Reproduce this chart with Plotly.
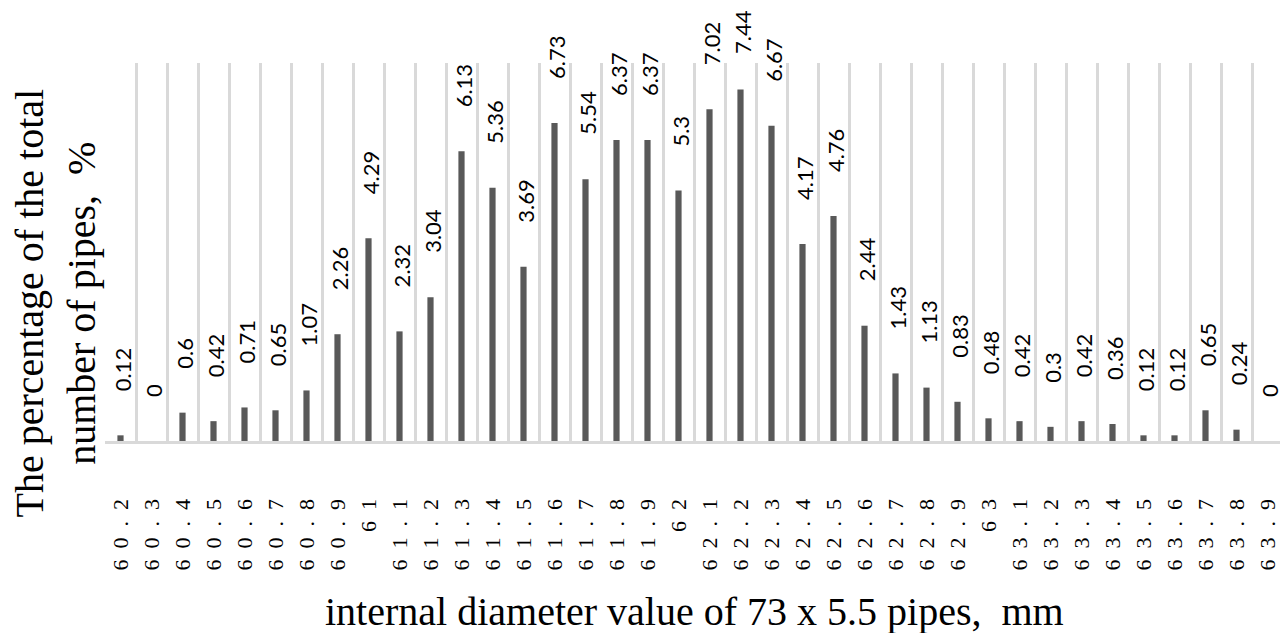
import plotly.graph_objects as go

categories = ["60.2", "60.3", "60.4", "60.5", "60.6", "60.7", "60.8", "60.9",
              "61", "61.1", "61.2", "61.3", "61.4", "61.5", "61.6", "61.7", "61.8", "61.9",
              "62", "62.1", "62.2", "62.3", "62.4", "62.5", "62.6", "62.7", "62.8", "62.9",
              "63", "63.1", "63.2", "63.3", "63.4", "63.5", "63.6", "63.7", "63.8", "63.9"]
values = [0.12, 0, 0.6, 0.42, 0.71, 0.65, 1.07, 2.26,
          4.29, 2.32, 3.04, 6.13, 5.36, 3.69, 6.73, 5.54, 6.37, 6.37,
          5.3, 7.02, 7.44, 6.67, 4.17, 4.76, 2.44, 1.43, 1.13, 0.83,
          0.48, 0.42, 0.3, 0.42, 0.36, 0.12, 0.12, 0.65, 0.24, 0]
value_labels = ["0.12", "0", "0.6", "0.42", "0.71", "0.65", "1.07", "2.26",
                "4.29", "2.32", "3.04", "6.13", "5.36", "3.69", "6.73", "5.54", "6.37", "6.37",
                "5.3", "7.02", "7.44", "6.67", "4.17", "4.76", "2.44", "1.43", "1.13", "0.83",
                "0.48", "0.42", "0.3", "0.42", "0.36", "0.12", "0.12", "0.65", "0.24", "0"]

x_title = "internal diameter value of 73 x 5.5 pipes,\u00a0\u00a0mm"
y_title = "The percentage of the total<br>number of pipes,\u00a0\u00a0%"

SEP = "\u2002"            # en space between characters
PAD_SHORT = "\u2002\u2002\u2002\u2005"  # leading pad so "61" lines up at the top like "61.1"


def spaced(label):
    s = SEP.join(list(label))
    if "." not in label:
        s = PAD_SHORT + s
    return s


tick_text = [spaced(c) for c in categories]
positions = list(range(len(categories)))

# layout geometry
W, H = 1280, 625
M_L, M_R, M_T, M_B = 97, 5, 55, 192
Y_MAX = 8
plot_h = H - M_T - M_B
px_per_unit = plot_h / Y_MAX
LABEL_SIZE = 22
LABEL_GAP = 42

fig = go.Figure()
fig.add_trace(go.Bar(
    x=positions, y=values,
    marker=dict(color="#595959", line=dict(width=0)),
    width=0.2,
    hoverinfo="skip",
))

annotations = []
# value labels above bars (pushed down when they would leave the figure)
for p, v, t in zip(positions, values, value_labels):
    bar_top = M_T + (Y_MAX - v) * px_per_unit
    n_dig = sum(ch.isdigit() for ch in t)
    n_dot = t.count(".")
    est_len = LABEL_SIZE * (0.58 * n_dig + 0.24 * n_dot) + 2
    shift = min(LABEL_GAP, bar_top - 3 - est_len)
    annotations.append(dict(
        x=p, y=v, xref="x", yref="y", text=t, showarrow=False,
        textangle=-90, xanchor="center", yanchor="bottom", yshift=shift, xshift=2,
        font=dict(family="Lato", size=LABEL_SIZE, color="#000000"),
    ))
# category tick labels under the axis
for p, t in zip(positions, tick_text):
    annotations.append(dict(
        x=p, y=-0.249, xref="x", yref="paper", text=t, showarrow=False,
        textangle=-90, xanchor="center", yanchor="middle",
        font=dict(family="Liberation Serif", size=22, color="#000000"),
    ))

annotations.append(dict(
    x=-0.042, y=0.365, xref="paper", yref="paper", text=y_title, showarrow=False,
    textangle=-90, xanchor="center", yanchor="middle", align="center",
    font=dict(family="Liberation Serif", size=40, color="#000000"),
))
annotations.append(dict(
    x=0.5, y=-0.452, xref="paper", yref="paper", text=x_title, showarrow=False,
    xanchor="center", yanchor="middle",
    font=dict(family="Liberation Serif", size=40, color="#000000"),
))

fig.update_layout(
    width=W, height=H,
    margin=dict(l=M_L, r=M_R, t=M_T, b=M_B),
    paper_bgcolor="white", plot_bgcolor="white",
    showlegend=False,
    annotations=annotations,
    font=dict(family="Liberation Serif", color="#000000"),
)
fig.update_xaxes(
    type="linear",
    tickmode="array", tickvals=[p - 0.5 for p in positions] + [len(positions) - 0.5],
    showticklabels=False, ticks="",
    showgrid=True, gridcolor="#d9d9d9", gridwidth=3,
    showline=True, linecolor="#d9d9d9", linewidth=3,
    range=[-0.5, len(categories) - 0.5],
    zeroline=False,
)
fig.update_yaxes(
    range=[0, Y_MAX], showgrid=False, showticklabels=False, zeroline=False, showline=False,
)

fig.write_html("out.html")
